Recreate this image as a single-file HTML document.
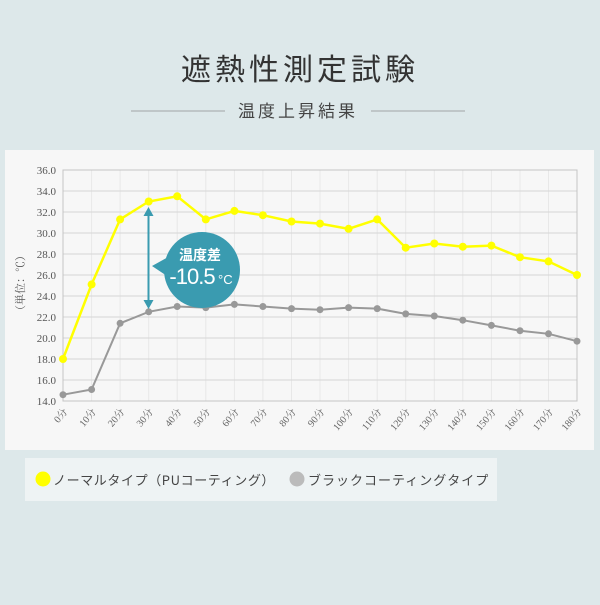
<!DOCTYPE html><html><head><meta charset="utf-8"><style>body{margin:0;width:600px;height:600px;background:#dde8ea;overflow:hidden}</style></head><body>
<svg width="600" height="600" xmlns="http://www.w3.org/2000/svg" font-family="Liberation Serif, Noto Serif CJK SC, serif">
<text x="300" y="80" text-anchor="middle" font-family="Noto Sans CJK JP, sans-serif" font-size="30" fill="#333" letter-spacing="4">遮熱性測定試験</text>
<line x1="131" y1="111" x2="225" y2="111" stroke="#b5bbbd" stroke-width="1.5"/>
<line x1="371" y1="111" x2="465" y2="111" stroke="#b5bbbd" stroke-width="1.5"/>
<text x="298" y="117" text-anchor="middle" font-family="Noto Sans CJK JP, sans-serif" font-size="17" fill="#444" letter-spacing="3">温度上昇結果</text>
<rect x="5" y="150" width="589" height="300" fill="#f7f7f7"/>
<g stroke="#e8e8e8" stroke-width="1">
<path d="M91.6 170V401M120.1 170V401M148.7 170V401M177.2 170V401M205.8 170V401M234.4 170V401M262.9 170V401M291.5 170V401M320 170V401M348.6 170V401M377.2 170V401M405.7 170V401M434.3 170V401M462.8 170V401M491.4 170V401M520 170V401M548.5 170V401"/>
</g>
<g stroke="#d6d6d6" stroke-width="1">
<path d="M63 191H577M63 212H577M63 233H577M63 254H577M63 275H577M63 296H577M63 317H577M63 338H577M63 359H577M63 380H577"/>
</g>
<rect x="63" y="170" width="514" height="231" fill="none" stroke="#c4c4c4"/>
<g font-size="11" fill="#555" text-anchor="end">
<text x="56" y="174">36.0</text><text x="56" y="195">34.0</text><text x="56" y="216">32.0</text><text x="56" y="237">30.0</text><text x="56" y="258">28.0</text><text x="56" y="279">26.0</text><text x="56" y="300">24.0</text><text x="56" y="321">22.0</text><text x="56" y="342">20.0</text><text x="56" y="363">18.0</text><text x="56" y="384">16.0</text><text x="56" y="405">14.0</text>
</g>
<text transform="translate(24,316) rotate(-90)" font-size="11" fill="#555" font-family="Noto Serif CJK SC, serif">（単位：℃）</text>
<g font-size="10" fill="#666" text-anchor="end">
<text transform="translate(68,412) rotate(-50)">0分</text><text transform="translate(96.6,412) rotate(-50)">10分</text><text transform="translate(125.1,412) rotate(-50)">20分</text><text transform="translate(153.7,412) rotate(-50)">30分</text><text transform="translate(182.2,412) rotate(-50)">40分</text><text transform="translate(210.8,412) rotate(-50)">50分</text><text transform="translate(239.4,412) rotate(-50)">60分</text><text transform="translate(267.9,412) rotate(-50)">70分</text><text transform="translate(296.5,412) rotate(-50)">80分</text><text transform="translate(325,412) rotate(-50)">90分</text><text transform="translate(353.6,412) rotate(-50)">100分</text><text transform="translate(382.2,412) rotate(-50)">110分</text><text transform="translate(410.7,412) rotate(-50)">120分</text><text transform="translate(439.3,412) rotate(-50)">130分</text><text transform="translate(467.8,412) rotate(-50)">140分</text><text transform="translate(496.4,412) rotate(-50)">150分</text><text transform="translate(525,412) rotate(-50)">160分</text><text transform="translate(553.5,412) rotate(-50)">170分</text><text transform="translate(582,412) rotate(-50)">180分</text>
</g>
<polyline fill="none" stroke="#999" stroke-width="2" points="63,394.7 91.6,389.5 120.1,323.3 148.7,311.8 177.2,306.5 205.8,307.6 234.4,304.4 262.9,306.5 291.5,308.6 320,309.7 348.6,307.6 377.2,308.6 405.7,313.9 434.3,316 462.8,320.2 491.4,325.4 520,330.7 548.5,333.8 577,341.2"/>
<g fill="#999"><circle cx="63" cy="394.7" r="3.5"/><circle cx="91.6" cy="389.5" r="3.5"/><circle cx="120.1" cy="323.3" r="3.5"/><circle cx="148.7" cy="311.8" r="3.5"/><circle cx="177.2" cy="306.5" r="3.5"/><circle cx="205.8" cy="307.6" r="3.5"/><circle cx="234.4" cy="304.4" r="3.5"/><circle cx="262.9" cy="306.5" r="3.5"/><circle cx="291.5" cy="308.6" r="3.5"/><circle cx="320" cy="309.7" r="3.5"/><circle cx="348.6" cy="307.6" r="3.5"/><circle cx="377.2" cy="308.6" r="3.5"/><circle cx="405.7" cy="313.9" r="3.5"/><circle cx="434.3" cy="316" r="3.5"/><circle cx="462.8" cy="320.2" r="3.5"/><circle cx="491.4" cy="325.4" r="3.5"/><circle cx="520" cy="330.7" r="3.5"/><circle cx="548.5" cy="333.8" r="3.5"/><circle cx="577" cy="341.2" r="3.5"/></g>
<polyline fill="none" stroke="#ffff00" stroke-width="2.5" points="63,359 91.6,284.4 120.1,219.4 148.7,201.5 177.2,196.3 205.8,219.4 234.4,210.9 262.9,215.2 291.5,221.5 320,223.6 348.6,228.8 377.2,219.4 405.7,247.7 434.3,243.5 462.8,246.7 491.4,245.6 520,257.2 548.5,261.4 577,275"/>
<g fill="#ffff00"><circle cx="63" cy="359" r="4"/><circle cx="91.6" cy="284.4" r="4"/><circle cx="120.1" cy="219.4" r="4"/><circle cx="148.7" cy="201.5" r="4"/><circle cx="177.2" cy="196.3" r="4"/><circle cx="205.8" cy="219.4" r="4"/><circle cx="234.4" cy="210.9" r="4"/><circle cx="262.9" cy="215.2" r="4"/><circle cx="291.5" cy="221.5" r="4"/><circle cx="320" cy="223.6" r="4"/><circle cx="348.6" cy="228.8" r="4"/><circle cx="377.2" cy="219.4" r="4"/><circle cx="405.7" cy="247.7" r="4"/><circle cx="434.3" cy="243.5" r="4"/><circle cx="462.8" cy="246.7" r="4"/><circle cx="491.4" cy="245.6" r="4"/><circle cx="520" cy="257.2" r="4"/><circle cx="548.5" cy="261.4" r="4"/><circle cx="577" cy="275" r="4"/></g>
<line x1="148.5" y1="214" x2="148.5" y2="302" stroke="#3a9bb0" stroke-width="2"/>
<path d="M143.5 216 L148.5 207 L153.5 216Z M143.5 300 L148.5 309 L153.5 300Z" fill="#3a9bb0"/>
<circle cx="202" cy="270" r="38" fill="#3a9bb0"/>
<path d="M170 256 L152 266 L170 278Z" fill="#3a9bb0"/>
<text x="200" y="260" text-anchor="middle" font-family="Noto Sans CJK JP, sans-serif" font-size="14" fill="#fff" font-weight="bold">温度差</text>
<text x="192" y="284" text-anchor="middle" font-family="Liberation Sans, sans-serif" font-size="22" fill="#fff" letter-spacing="-1">-10.5</text>
<text x="218" y="284" font-family="Liberation Sans, sans-serif" font-size="13" fill="#fff">°C</text>
<rect x="25" y="458" width="472" height="43" fill="#eef3f4"/>
<circle cx="43" cy="479" r="7.5" fill="#ffff00"/>
<text x="53" y="485" font-family="Noto Sans CJK JP, sans-serif" font-size="13" fill="#444" letter-spacing="0.6">ノーマルタイプ（PUコーティング）</text>
<circle cx="297" cy="479" r="7.5" fill="#bbb"/>
<text x="308" y="485" font-family="Noto Sans CJK JP, sans-serif" font-size="13" fill="#444" letter-spacing="1">ブラックコーティングタイプ</text>
</svg>
</body></html>
